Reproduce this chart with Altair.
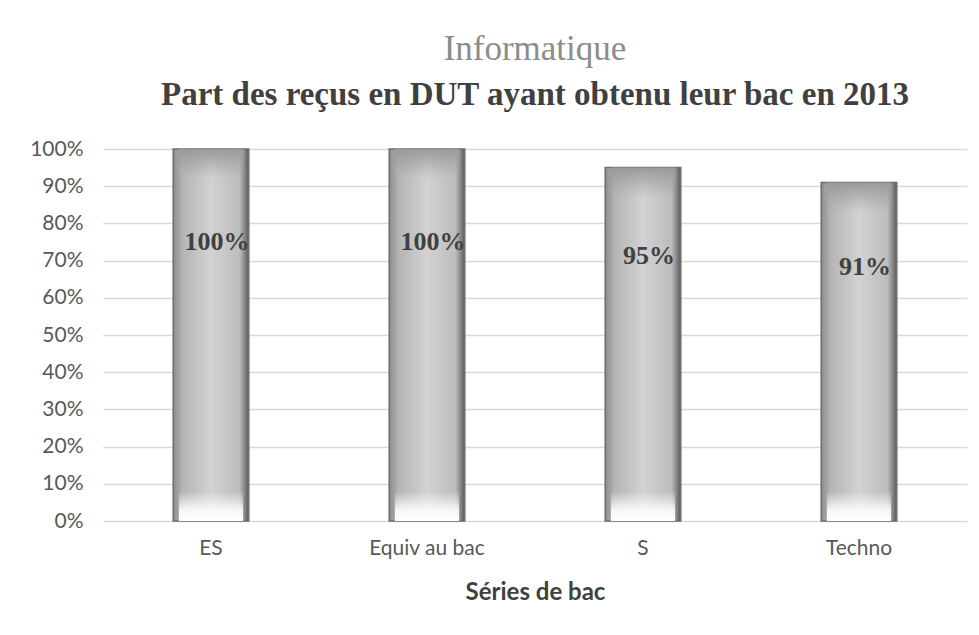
import altair as alt
import pandas as pd

categories = ["ES", "Equiv au bac", "S", "Techno"]
values = [1.00, 1.00, 0.95, 0.91]
labels = ["100%", "100%", "95%", "91%"]

df = pd.DataFrame({"serie": categories, "value": values, "label": labels})

x_enc = alt.X(
    "serie:N",
    sort=categories,
    scale=alt.Scale(paddingInner=0.65, paddingOuter=0.325),
    axis=alt.Axis(
        title="Séries de bac",
        labelAngle=0,
        labelFont="Lato",
        labelFontSize=21,
        labelColor="#595959",
        labelPadding=16,
        ticks=False,
        domain=False,
        titleFont="Lato",
        titleFontSize=24,
        titleFontWeight="bold",
        titleColor="#404040",
        titlePadding=22,
    ),
)

y_scale = alt.Scale(domain=[0, 1])
y_axis = alt.Axis(
    title=None,
    format=".0%",
    values=[i / 10 for i in range(11)],
    labelFont="Lato",
    labelFontSize=21,
    labelColor="#595959",
    labelPadding=20,
    labelOverlap=False,
    ticks=False,
    domain=False,
    gridColor="#d9d9d9",
    gridWidth=1.5,
)

base = alt.Chart(df)

bars = base.mark_bar(
    stroke="#6e6e6e",
    strokeWidth=1.5,
    color=alt.Gradient(
        gradient="linear",
        x1=0, x2=1, y1=0, y2=0,
        stops=[
            alt.GradientStop(offset=0, color="#8c8c8c"),
            alt.GradientStop(offset=0.12, color="#b4b4b4"),
            alt.GradientStop(offset=0.5, color="#d2d2d2"),
            alt.GradientStop(offset=0.88, color="#bcbcbc"),
            alt.GradientStop(offset=1, color="#5a5a5a"),
        ],
    ),
).encode(
    x=x_enc,
    y=alt.Y("value:Q", scale=y_scale, axis=y_axis),
)

bottom_bevel = base.transform_calculate(lo="0", hi="0.08").mark_bar(
    color=alt.Gradient(
        gradient="linear",
        x1=0, x2=0, y1=0, y2=1,
        stops=[
            alt.GradientStop(offset=0, color="rgba(255,255,255,0)"),
            alt.GradientStop(offset=0.6, color="rgba(255,255,255,0.85)"),
            alt.GradientStop(offset=1, color="#ffffff"),
        ],
    ),
    width={"band": 0.85},
).encode(x=x_enc, y=alt.Y("lo:Q", scale=y_scale, axis=y_axis), y2="hi:Q")

top_bevel = base.transform_calculate(lo="datum.value - 0.08").mark_bar(
    color=alt.Gradient(
        gradient="linear",
        x1=0, x2=0, y1=0, y2=1,
        stops=[
            alt.GradientStop(offset=0, color="#9a9a9a"),
            alt.GradientStop(offset=1, color="rgba(160,160,160,0)"),
        ],
    ),
    width={"band": 0.85},
).encode(x=x_enc, y=alt.Y("lo:Q", scale=y_scale, axis=y_axis), y2="value:Q")

text = base.transform_calculate(ly="datum.value * 0.75").mark_text(
    font="Liberation Serif",
    fontSize=26,
    fontWeight="bold",
    color="#404040",
    dx=6,
    baseline="middle",
).encode(x=x_enc, y=alt.Y("ly:Q", scale=y_scale, axis=y_axis), text="label:N")

chart = (
    alt.layer(bars, bottom_bevel, top_bevel, text)
    .properties(
        width=864,
        height=372,
        autosize=alt.AutoSizeParams(type="none"),
        padding={"left": 95, "top": 141, "right": 4, "bottom": 100},
        title=alt.TitleParams(
            text="Informatique",
            subtitle="Part des reçus en DUT ayant obtenu leur bac en 2013",
            font="Liberation Serif",
            fontSize=35,
            fontWeight="normal",
            color="#8c8c8c",
            subtitleFont="Liberation Serif",
            subtitleFontSize=33,
            subtitleFontWeight="bold",
            subtitleColor="#404040",
            subtitlePadding=12,
            anchor="middle",
            frame="group",
            offset=26,
        ),
    )
    .configure_view(stroke=None)
)

chart.save("out.html", embed_options={"renderer": "svg", "actions": False})
